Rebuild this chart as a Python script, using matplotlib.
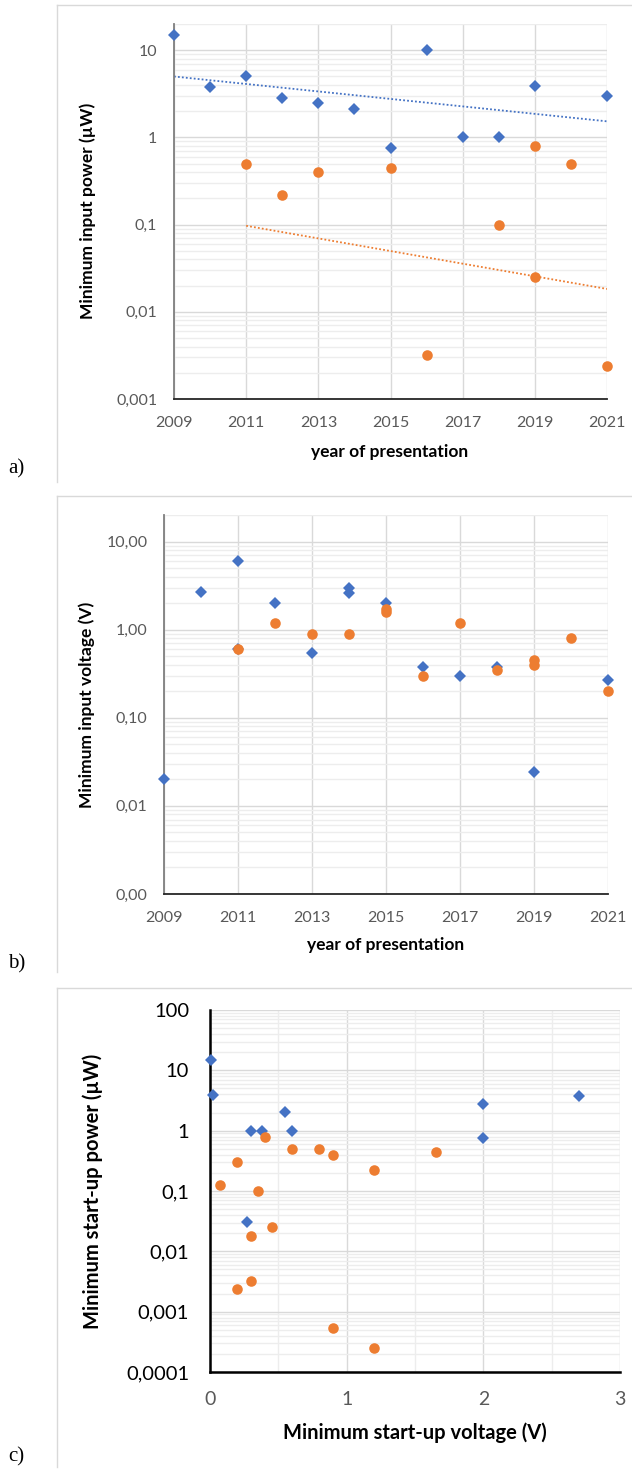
import matplotlib
matplotlib.use("Agg")
import matplotlib.pyplot as plt
from matplotlib.ticker import FixedLocator, NullFormatter, LogLocator
from matplotlib.lines import Line2D

# ---------------- data ----------------
# panel a: minimum input power (uW) vs year
a_blue_year = [2009, 2010, 2011, 2012, 2013, 2014, 2015, 2016, 2017, 2018, 2019, 2021]
a_blue_power = [15, 3.8, 5.0, 2.8, 2.5, 2.1, 0.75, 10, 1.0, 1.0, 3.9, 3.0]
a_orange_year = [2011, 2012, 2013, 2015, 2016, 2018, 2019, 2019, 2020, 2021]
a_orange_power = [0.5, 0.22, 0.4, 0.45, 0.0032, 0.1, 0.8, 0.025, 0.5, 0.0024]
a_blue_trend_year = [2009, 2021]
a_blue_trend = [5.0, 1.53]
a_orange_trend_year = [2011, 2021]
a_orange_trend = [0.097, 0.0183]
a_yticks = [0.001, 0.01, 0.1, 1, 10]
a_yticklabels = ["0,001", "0,01", "0,1", "1", "10"]

# panel b: minimum input voltage (V) vs year
b_blue_year = [2009, 2010, 2011, 2011, 2012, 2013, 2014, 2014, 2015, 2016, 2017, 2018, 2019, 2021]
b_blue_volt = [0.02, 2.7, 6.0, 0.6, 2.0, 0.55, 3.0, 2.6, 2.0, 0.38, 0.30, 0.38, 0.024, 0.27]
b_orange_year = [2011, 2012, 2013, 2014, 2015, 2015, 2016, 2017, 2018, 2019, 2019, 2020, 2021]
b_orange_volt = [0.6, 1.2, 0.9, 0.9, 1.7, 1.6, 0.30, 1.2, 0.35, 0.45, 0.40, 0.8, 0.2]
b_yticks = [0.001, 0.01, 0.1, 1, 10]
b_yticklabels = ["0,00", "0,01", "0,10", "1,00", "10,00"]

years_ticks = [2009, 2011, 2013, 2015, 2017, 2019, 2021]
years_ticklabels = [str(y) for y in years_ticks]

# panel c: minimum start-up power (uW) vs minimum start-up voltage (V)
c_blue_volt = [0.01, 0.02, 0.30, 0.38, 0.55, 0.60, 0.27, 2.0, 2.0, 2.7]
c_blue_power = [15, 3.9, 1.0, 1.0, 2.05, 1.0, 0.031, 2.8, 0.75, 3.8]
c_orange_volt = [0.4, 0.6, 0.8, 0.9, 1.2, 1.65, 0.2, 0.07, 0.35, 0.45, 0.3, 0.3, 0.2, 0.9, 1.2]
c_orange_power = [0.8, 0.5, 0.5, 0.4, 0.22, 0.45, 0.3, 0.125, 0.1, 0.025, 0.018,
                  0.0032, 0.0024, 0.00054, 0.00025]
c_xticks = [0, 1, 2, 3]
c_xticklabels = ["0", "1", "2", "3"]
c_yticks = [0.0001, 0.001, 0.01, 0.1, 1, 10, 100]
c_yticklabels = ["0,0001", "0,001", "0,01", "0,1", "1", "10", "100"]

# ---------------- style ----------------
BLUE = "#4472C4"
ORANGE = "#ED7D31"
GRID_MAJ = "#D9D9D9"
GRID_MIN = "#EDEDED"
TICK_GRAY = "#595959"
SANS = "Lato"

W, H = 632, 1471
DPI = 100
fig = plt.figure(figsize=(W / DPI, H / DPI), dpi=DPI)


def fx(px):
    return px / W


def fy(py):
    return 1 - py / H


def axes_px(left, top, right, bottom):
    return fig.add_axes([fx(left), fy(bottom), (right - left) / W, (bottom - top) / H])


def style_log_axes(ax, spine_left="#7F7F7F", spine_bottom="#262626", lw=1.3):
    ax.set_yscale("log")
    ax.yaxis.set_minor_locator(LogLocator(base=10, subs=range(2, 10)))
    ax.yaxis.set_minor_formatter(NullFormatter())
    ax.grid(True, which="major", color=GRID_MAJ, lw=1.0, zorder=0)
    ax.grid(True, which="minor", axis="y", color=GRID_MIN, lw=1.0, zorder=0)
    ax.set_axisbelow(True)
    for s in ("top", "right"):
        ax.spines[s].set_visible(False)
    ax.spines["left"].set_color(spine_left)
    ax.spines["bottom"].set_color(spine_bottom)
    ax.spines["left"].set_linewidth(lw)
    ax.spines["bottom"].set_linewidth(lw)
    ax.tick_params(which="both", length=0)


def panel_frame(top, bottom):
    fig.add_artist(Line2D([fx(57), 1.0], [fy(top), fy(top)], color="#D9D9D9", lw=1.0))
    fig.add_artist(Line2D([fx(57), fx(57)], [fy(top), fy(bottom)], color="#D9D9D9", lw=1.0))


mk_d = dict(marker="D", ms=6.4, mew=0, ls="none", clip_on=False, zorder=3)
mk_o = dict(marker="o", ms=7.6, mew=0, ls="none", clip_on=False, zorder=4)

# ---------------- panel a ----------------
panel_frame(5, 482)
axa = axes_px(174, 24, 607, 399)
style_log_axes(axa)
axa.plot(a_blue_trend_year, a_blue_trend, color=BLUE, lw=1.3, ls=(0, (1, 1.2)), zorder=2)
axa.plot(a_orange_trend_year, a_orange_trend, color=ORANGE, lw=1.3, ls=(0, (1, 1.2)), zorder=2)
axa.plot(a_blue_year, a_blue_power, color=BLUE, **mk_d)
axa.plot(a_orange_year, a_orange_power, color=ORANGE, **mk_o)
axa.set_xlim(2009, 2021)
axa.set_ylim(0.001, 20)
axa.xaxis.set_major_locator(FixedLocator(years_ticks))
axa.set_xticklabels(years_ticklabels)
axa.yaxis.set_major_locator(FixedLocator(a_yticks))
axa.set_yticklabels(a_yticklabels)
axa.tick_params(axis="both", labelsize=11.5, labelcolor=TICK_GRAY)
axa.tick_params(axis="x", pad=12)
axa.tick_params(axis="y", pad=12)
for t in axa.get_xticklabels() + axa.get_yticklabels():
    t.set_fontfamily(SANS)
fig.text(fx(88), fy(211), "Minimum input power (µW)", rotation=90, ha="center", va="center",
         fontsize=12.5, fontweight="bold", family=SANS)
fig.text(fx(390), fy(452), "year of presentation", ha="center", va="center",
         fontsize=12.5, fontweight="bold", family=SANS)
fig.text(fx(8), fy(469), "a)", ha="left", va="center", fontsize=15, family="Liberation Serif")

# ---------------- panel b ----------------
panel_frame(496, 972)
axb = axes_px(164, 515, 608, 894)
style_log_axes(axb)
axb.plot(b_blue_year, b_blue_volt, color=BLUE, **mk_d)
axb.plot(b_orange_year, b_orange_volt, color=ORANGE, **mk_o)
axb.set_xlim(2009, 2021)
axb.set_ylim(0.001, 20)
axb.xaxis.set_major_locator(FixedLocator(years_ticks))
axb.set_xticklabels(years_ticklabels)
axb.yaxis.set_major_locator(FixedLocator(b_yticks))
axb.set_yticklabels(b_yticklabels)
axb.tick_params(axis="both", labelsize=11.5, labelcolor=TICK_GRAY)
axb.tick_params(axis="x", pad=12)
axb.tick_params(axis="y", pad=12)
for t in axb.get_xticklabels() + axb.get_yticklabels():
    t.set_fontfamily(SANS)
fig.text(fx(87), fy(705), "Minimum input voltage (V)", rotation=90, ha="center", va="center",
         fontsize=12.5, fontweight="bold", family=SANS)
fig.text(fx(386), fy(945), "year of presentation", ha="center", va="center",
         fontsize=12.5, fontweight="bold", family=SANS)
fig.text(fx(8), fy(964), "b)", ha="left", va="center", fontsize=15, family="Liberation Serif")

# ---------------- panel c ----------------
panel_frame(988, 1467)
axc = axes_px(210, 1010, 620, 1372)
style_log_axes(axc, spine_left="#000000", spine_bottom="#000000", lw=1.8)
axc.xaxis.set_minor_locator(FixedLocator([0.5, 1.5, 2.5]))
axc.grid(True, which="minor", axis="x", color=GRID_MIN, lw=1.0, zorder=0)
axc.plot(c_blue_volt, c_blue_power, color=BLUE, **mk_d)
axc.plot(c_orange_volt, c_orange_power, color=ORANGE, **mk_o)
axc.set_xlim(0, 3)
axc.set_ylim(0.0001, 100)
axc.xaxis.set_major_locator(FixedLocator(c_xticks))
axc.set_xticklabels(c_xticklabels)
axc.yaxis.set_major_locator(FixedLocator(c_yticks))
axc.set_yticklabels(c_yticklabels)
axc.tick_params(axis="x", labelsize=14, labelcolor=TICK_GRAY, pad=14)
axc.tick_params(axis="y", labelsize=14.5, labelcolor="#000000", pad=15)
for t in axc.get_xticklabels() + axc.get_yticklabels():
    t.set_fontfamily(SANS)
fig.text(fx(93), fy(1191), "Minimum start-up power (µW)", rotation=90, ha="center", va="center",
         fontsize=14.5, fontweight="bold", family=SANS)
fig.text(fx(415), fy(1433), "Minimum start-up voltage (V)", ha="center", va="center",
         fontsize=14.5, fontweight="bold", family=SANS)
fig.text(fx(8), fy(1457), "c)", ha="left", va="center", fontsize=15, family="Liberation Serif")

fig.savefig("out.png", dpi=DPI)
